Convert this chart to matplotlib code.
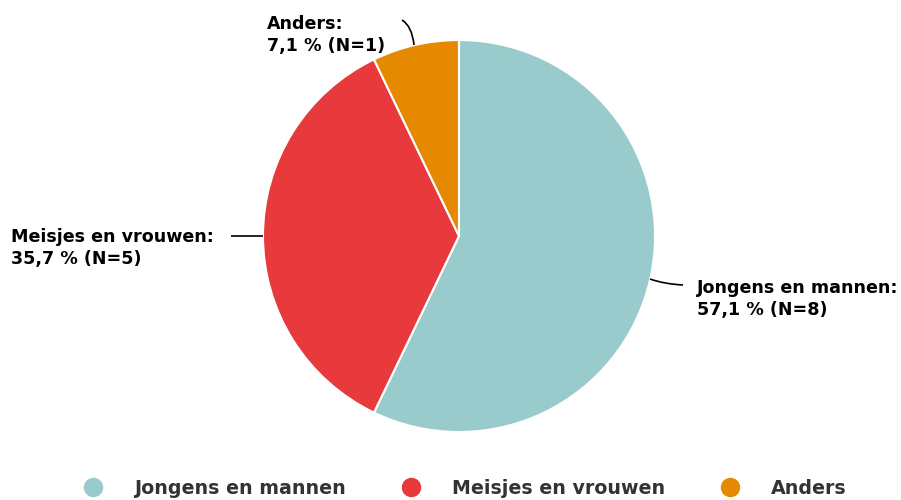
import matplotlib
matplotlib.use("Agg")
import matplotlib.pyplot as plt
from matplotlib.path import Path
from matplotlib.patches import PathPatch
from matplotlib.lines import Line2D

plt.rcParams["font.family"] = ["DejaVu Sans"]

categories = ["Jongens en mannen", "Meisjes en vrouwen", "Anders"]
counts = [8, 5, 1]
colors = ["#99CBCC", "#E8393C", "#E58A00"]

W, H = 901, 500
fig = plt.figure(figsize=(W / 100, H / 100), dpi=100)

cx, cy, r = 459, 236, 196
ax = fig.add_axes([(cx - r) / W, (H - cy - r) / H, 2 * r / W, 2 * r / H])
ax.pie(counts, colors=colors, startangle=90, counterclock=False, radius=1,
       wedgeprops=dict(edgecolor="white", linewidth=1.5))
ax.set_xlim(-1, 1)
ax.set_ylim(-1, 1)
ax.set_aspect("equal")
ax.axis("off")

total = sum(counts)
def lab(i):
    pct = f"{counts[i] / total * 100:.1f}".replace(".", ",")
    return f"{categories[i]}:\n{pct} % (N={counts[i]})"

def px2d(px, py):
    return ((px - cx) / r, (cy - py) / r)

def curve(p0, c, p1):
    verts = [px2d(*p0), px2d(*c), px2d(*p1)]
    path = Path(verts, [Path.MOVETO, Path.CURVE3, Path.CURVE3])
    ax.add_patch(PathPatch(path, fill=False, edgecolor="black", linewidth=1.2,
                           clip_on=False))

# connectors
curve((414, 45), (412, 26), (402, 20))
curve((231, 236), (247, 236), (263, 236))
curve((650, 279), (664, 284), (683, 285))

fs = 12.6
fig.text(267 / W, 1 - 35 / H, lab(2), ha="left", va="center", fontsize=fs,
         fontweight="bold", linespacing=1.3)
fig.text(11 / W, 1 - 248 / H, lab(1), ha="left", va="center", fontsize=fs,
         fontweight="bold", linespacing=1.3)
fig.text(697 / W, 1 - 299 / H, lab(0), ha="left", va="center", fontsize=fs,
         fontweight="bold", linespacing=1.3)

handles = [Line2D([], [], marker="o", linestyle="", markersize=13,
                  markerfacecolor=c, markeredgecolor=c) for c in colors]
leg = fig.legend(handles, categories, loc="center", ncol=3,
                 bbox_to_anchor=(465 / W, 1 - 488 / H), frameon=False,
                 handlelength=1.0, handletextpad=1.65, columnspacing=2.9,
                 prop=dict(size=13.7, weight="bold"))
for t in leg.get_texts():
    t.set_color("#333333")

fig.savefig("out.png", dpi=100)
